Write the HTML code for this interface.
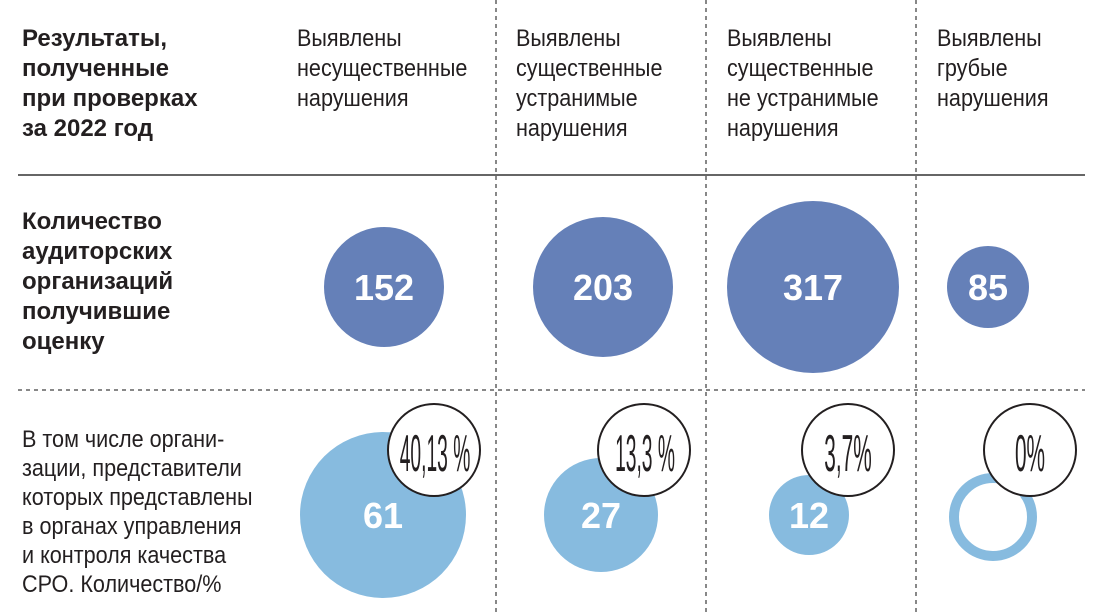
<!DOCTYPE html>
<html><head><meta charset="utf-8"><style>
html,body{margin:0;padding:0;background:#fff;}
svg{display:block;}
text{font-family:"Liberation Sans Narrow","Liberation Sans",sans-serif;fill:#231f20;}
.h{font-size:24px;}
.b{font-weight:bold;}
.num{font-family:"Liberation Sans",sans-serif;font-weight:bold;fill:#fff;font-size:36px;text-anchor:middle;}
.pc{font-family:"Liberation Sans",sans-serif;font-size:52px;text-anchor:middle;}
</style></head><body>
<svg width="1113" height="615" viewBox="0 0 1113 615">
<g stroke="#888" stroke-width="2" stroke-dasharray="4,4">
<line x1="496" y1="0" x2="496" y2="615"/>
<line x1="706" y1="0" x2="706" y2="615"/>
<line x1="916" y1="0" x2="916" y2="615"/>
<line x1="18" y1="390" x2="1085" y2="390"/>
</g>
<line x1="18" y1="175" x2="1085" y2="175" stroke="#333" stroke-width="1.5"/>

<g class="h b" transform="translate(22,0) scale(1,1)">
<text x="0" y="46">Результаты,</text>
<text x="0" y="76">полученные</text>
<text x="0" y="106">при проверках</text>
<text x="0" y="136">за 2022 год</text>
<text x="0" y="229">Количество</text>
<text x="0" y="259">аудиторских</text>
<text x="0" y="289">организаций</text>
<text x="0" y="319">получившие</text>
<text x="0" y="349">оценку</text>
</g>
<g class="h" transform="translate(297,0) scale(0.9,1)">
<text x="0" y="46">Выявлены</text>
<text x="0" y="76">несущественные</text>
<text x="0" y="106">нарушения</text>
</g>
<g class="h" transform="translate(516,0) scale(0.9,1)">
<text x="0" y="46">Выявлены</text>
<text x="0" y="76">существенные</text>
<text x="0" y="106">устранимые</text>
<text x="0" y="136">нарушения</text>
</g>
<g class="h" transform="translate(727,0) scale(0.9,1)">
<text x="0" y="46">Выявлены</text>
<text x="0" y="76">существенные</text>
<text x="0" y="106">не устранимые</text>
<text x="0" y="136">нарушения</text>
</g>
<g class="h" transform="translate(937,0) scale(0.9,1)">
<text x="0" y="46">Выявлены</text>
<text x="0" y="76">грубые</text>
<text x="0" y="106">нарушения</text>
</g>
<g class="h" transform="translate(22,0) scale(0.9,1)">
<text x="0" y="447">В том числе органи-</text>
<text x="0" y="476">зации, представители</text>
<text x="0" y="505">которых представлены</text>
<text x="0" y="534">в органах управления</text>
<text x="0" y="563">и контроля качества</text>
<text x="0" y="592">СРО. Количество/%</text>
</g>

<g fill="#6580b8">
<circle cx="384" cy="287" r="60"/>
<circle cx="603" cy="287" r="70"/>
<circle cx="813" cy="287" r="86"/>
<circle cx="988" cy="287" r="41"/>
</g>
<text class="num" x="384" y="300">152</text>
<text class="num" x="603" y="300">203</text>
<text class="num" x="813" y="300">317</text>
<text class="num" x="988" y="300">85</text>

<g fill="#87bbdf">
<circle cx="383" cy="515" r="83"/>
<circle cx="601" cy="515" r="57"/>
<circle cx="809" cy="515" r="40"/>
</g>
<circle cx="993" cy="517" r="39" fill="none" stroke="#87bbdf" stroke-width="10"/>
<text class="num" x="383" y="528">61</text>
<text class="num" x="601" y="528">27</text>
<text class="num" x="809" y="528">12</text>

<g fill="#fff" stroke="#231f20" stroke-width="2">
<circle cx="434" cy="450" r="46"/>
<circle cx="644" cy="450" r="46"/>
<circle cx="848" cy="450" r="46"/>
<circle cx="1030" cy="450" r="46"/>
</g>
<text class="pc" transform="translate(435,471) scale(0.37,1)">40,13 %</text>
<text class="pc" transform="translate(645,471) scale(0.37,1)">13,3 %</text>
<text class="pc" transform="translate(848,471) scale(0.4,1)">3,7%</text>
<text class="pc" transform="translate(1030,471) scale(0.4,1)">0%</text>
</svg>
</body></html>
